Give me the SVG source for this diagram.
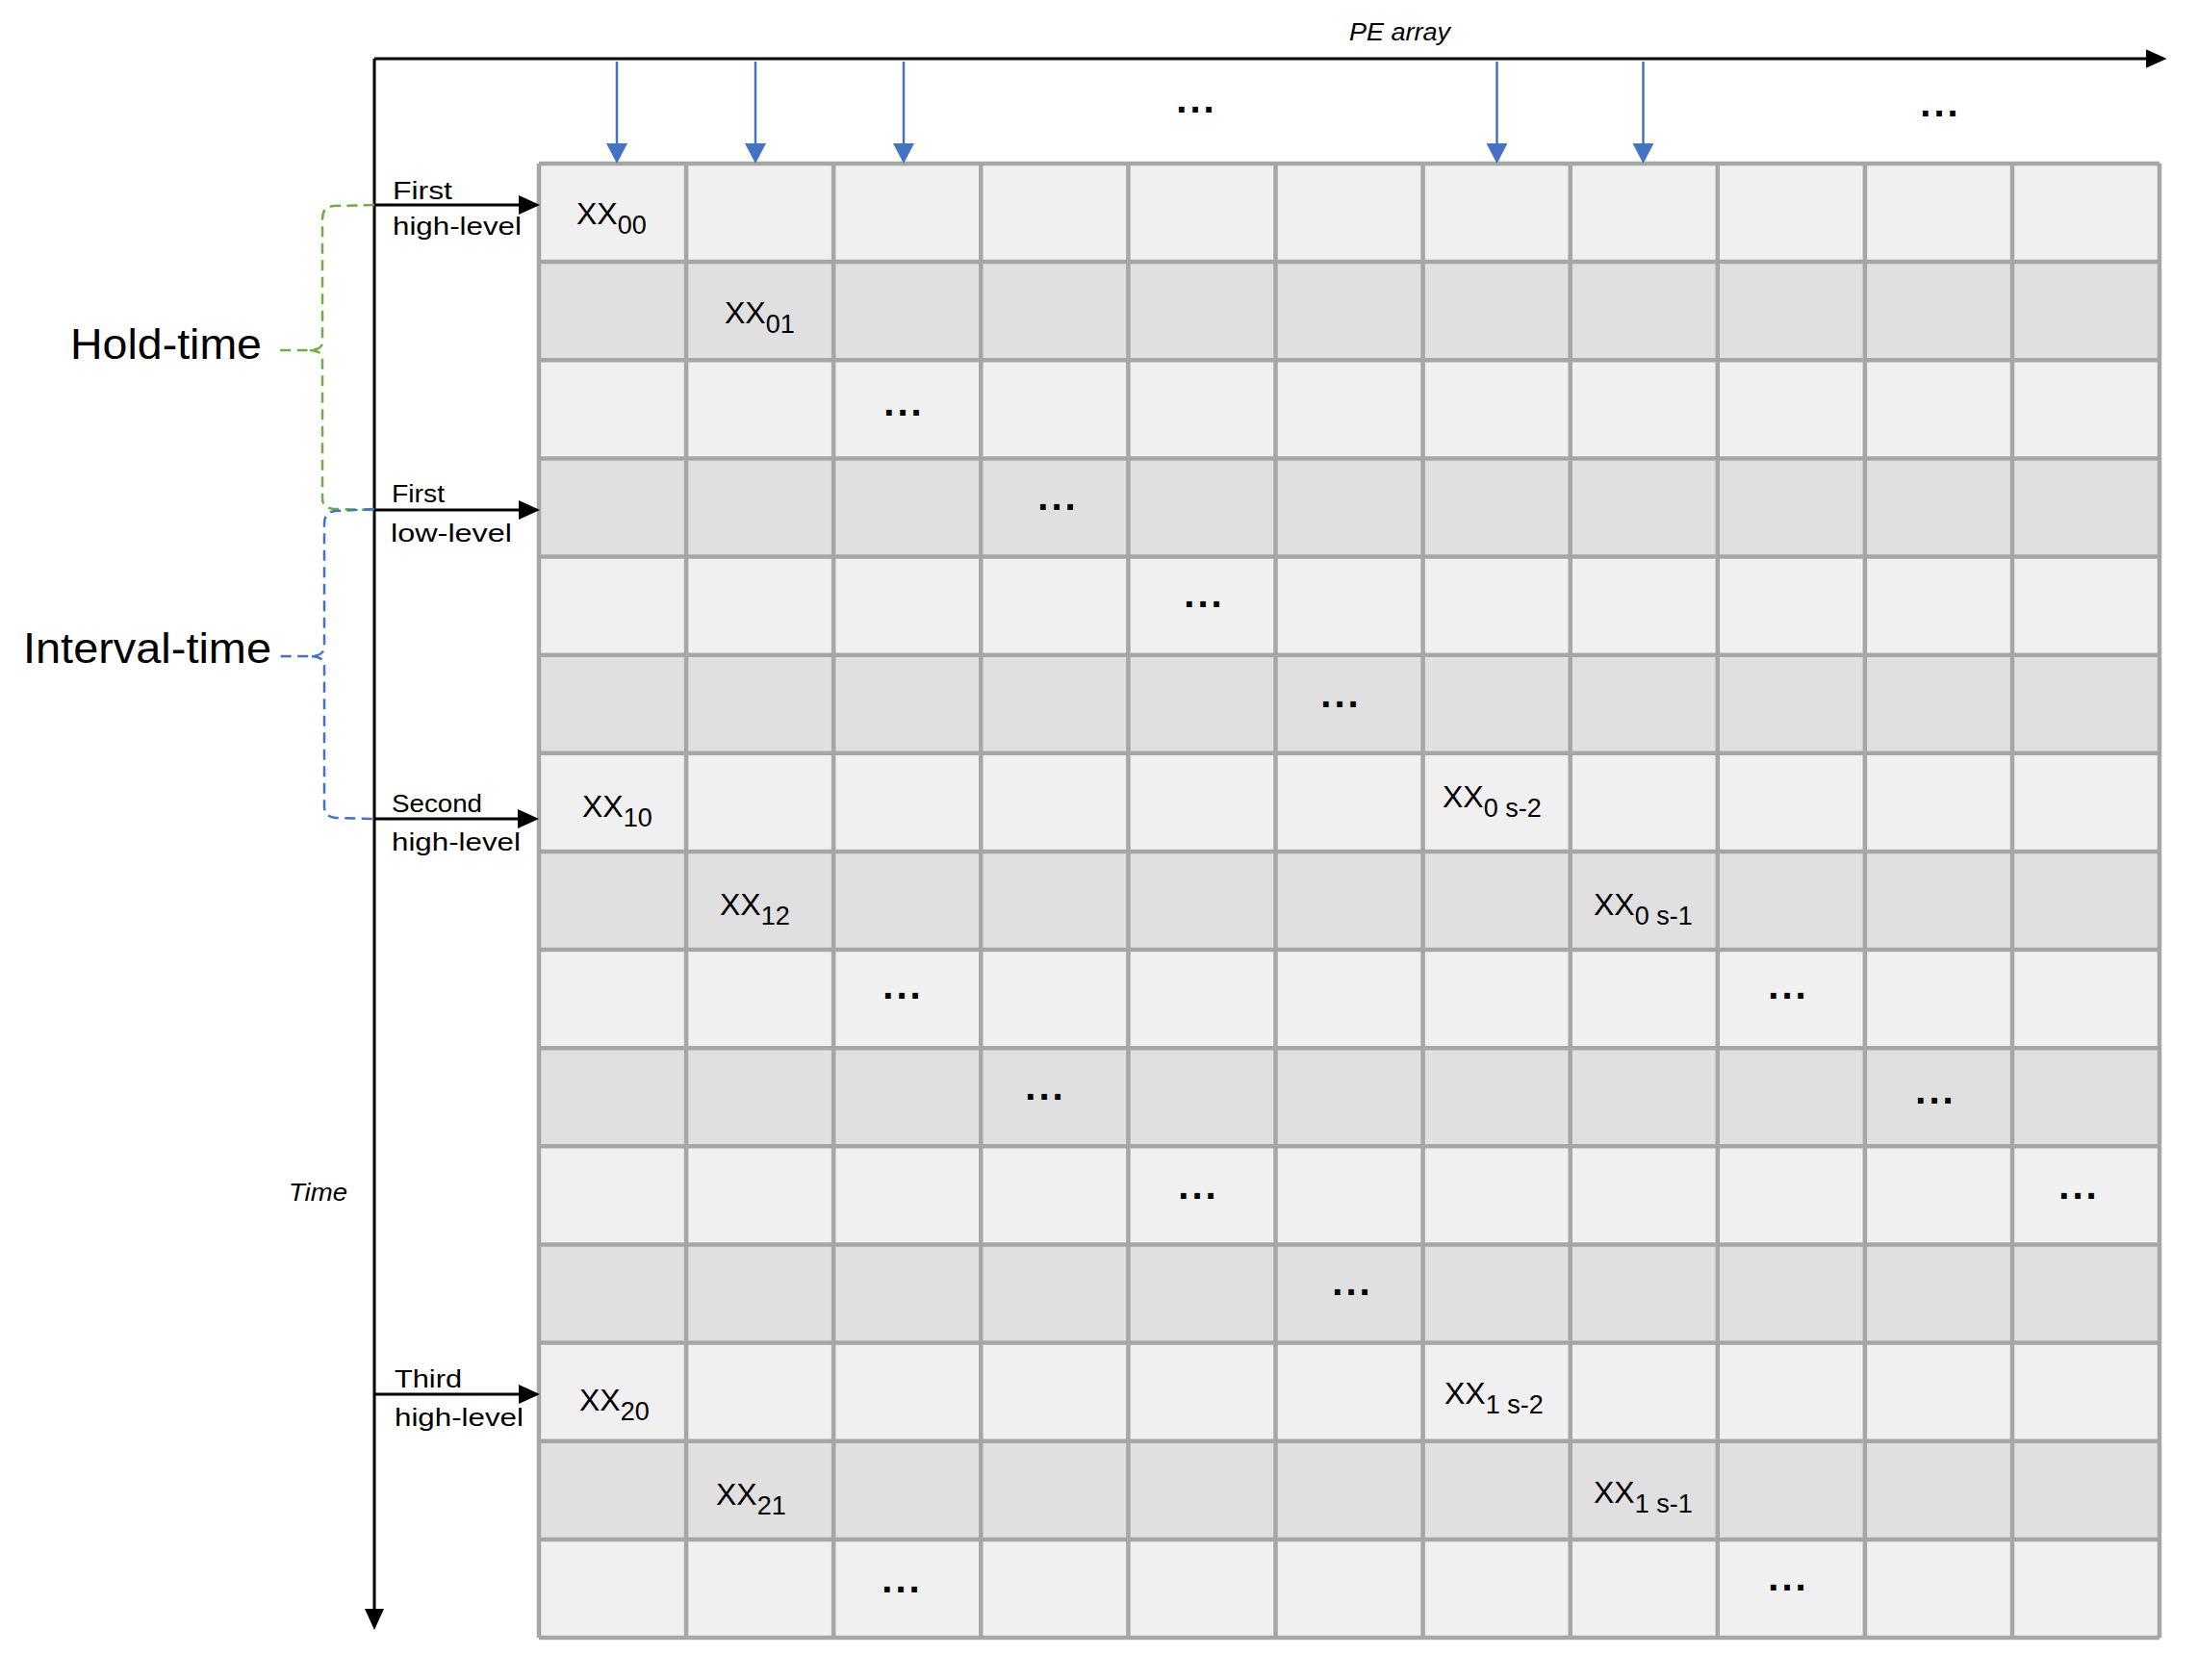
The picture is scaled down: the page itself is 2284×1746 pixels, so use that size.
<svg xmlns="http://www.w3.org/2000/svg" width="2284" height="1746" viewBox="0 0 2284 1746">
<style>
  .light { fill: #f0f0f0; }
  .dark { fill: #e0e0e0; }
  .gl { stroke: #a6a6a6; stroke-width: 4.5; fill: none; }
  .ax { stroke: #000; stroke-width: 3; fill: none; }
  .blue { stroke: #4472c4; stroke-width: 2.5; fill: none; }
  .brg { stroke: #70ad47; stroke-width: 2.5; fill: none; stroke-dasharray: 11 6.5; }
  .brb { stroke: #4472c4; stroke-width: 2.5; fill: none; stroke-dasharray: 11 6.5; }
  .lbl { font-family: "Liberation Sans", Arial, sans-serif; font-size: 25px; fill: #000; }
  .big { font-family: "Liberation Sans", Arial, sans-serif; font-size: 44px; fill: #000; }
  .it { font-family: "Liberation Sans", Arial, sans-serif; font-size: 26px; font-style: italic; fill: #000; }
  .xx { font-family: "Liberation Sans", Arial, sans-serif; font-size: 32px; fill: #000; }
  .sub { font-size: 27px; }
  .dots { font-family: "Liberation Sans", Arial, sans-serif; font-size: 40px; font-weight: bold; letter-spacing: 3px; text-anchor: middle; fill: #000; }
</style>
<defs>
  <marker id="ah" markerUnits="userSpaceOnUse" markerWidth="22" markerHeight="20" refX="12" refY="10" orient="auto">
    <path d="M0,0 L22,10 L0,20 z" fill="#000"/>
  </marker>
  <marker id="ahb" markerUnits="userSpaceOnUse" markerWidth="21" markerHeight="22" refX="11" refY="11" orient="auto">
    <path d="M0,0 L21,11 L0,22 z" fill="#4472c4"/>
  </marker>
</defs>
<rect width="2284" height="1746" fill="#fff"/>

<g id="grid">
  <rect class="light" x="560" y="170" width="1684" height="102.1"/>
  <rect class="dark" x="560" y="272.1" width="1684" height="102.2"/>
  <rect class="light" x="560" y="374.3" width="1684" height="102.1"/>
  <rect class="dark" x="560" y="476.4" width="1684" height="102.1"/>
  <rect class="light" x="560" y="578.5" width="1684" height="102.2"/>
  <rect class="dark" x="560" y="680.7" width="1684" height="102.1"/>
  <rect class="light" x="560" y="782.8" width="1684" height="102.1"/>
  <rect class="dark" x="560" y="884.9" width="1684" height="102.1"/>
  <rect class="light" x="560" y="987" width="1684" height="102.2"/>
  <rect class="dark" x="560" y="1089.2" width="1684" height="102.1"/>
  <rect class="light" x="560" y="1191.3" width="1684" height="102.2"/>
  <rect class="dark" x="560" y="1293.5" width="1684" height="102.1"/>
  <rect class="light" x="560" y="1395.6" width="1684" height="102.1"/>
  <rect class="dark" x="560" y="1497.7" width="1684" height="102.2"/>
  <rect class="light" x="560" y="1599.9" width="1684" height="102.1"/>
  <path class="gl" d="M560,170 V1702 M713.1,170 V1702 M866.2,170 V1702 M1019.3,170 V1702 M1172.4,170 V1702 M1325.5,170 V1702 M1478.6,170 V1702 M1631.7,170 V1702 M1784.8,170 V1702 M1937.9,170 V1702 M2091,170 V1702 M2244,170 V1702"/>
  <path class="gl" d="M560,170 H2244 M560,272.1 H2244 M560,374.3 H2244 M560,476.4 H2244 M560,578.5 H2244 M560,680.7 H2244 M560,782.8 H2244 M560,884.9 H2244 M560,987 H2244 M560,1089.2 H2244 M560,1191.3 H2244 M560,1293.5 H2244 M560,1395.6 H2244 M560,1497.7 H2244 M560,1599.9 H2244 M560,1702 H2244"/>
</g>

<g id="cell-labels">
  <text class="xx" x="599" y="233">XX<tspan class="sub" dy="10">00</tspan></text>
  <text class="xx" x="753" y="336">XX<tspan class="sub" dy="10">01</tspan></text>
  <text class="xx" x="605" y="849">XX<tspan class="sub" dy="10">10</tspan></text>
  <text class="xx" x="748" y="951">XX<tspan class="sub" dy="10">12</tspan></text>
  <text class="xx" x="602" y="1466">XX<tspan class="sub" dy="10">20</tspan></text>
  <text class="xx" x="744" y="1564">XX<tspan class="sub" dy="10">21</tspan></text>
  <text class="xx" x="1499" y="839">XX<tspan class="sub" dy="10">0 s-2</tspan></text>
  <text class="xx" x="1656" y="951">XX<tspan class="sub" dy="10">0 s-1</tspan></text>
  <text class="xx" x="1501" y="1459">XX<tspan class="sub" dy="10">1 s-2</tspan></text>
  <text class="xx" x="1656" y="1562">XX<tspan class="sub" dy="10">1 s-1</tspan></text>
</g>

<g id="ellipses">
  <text class="dots" x="1243.5" y="117">...</text>
  <text class="dots" x="2016.5" y="121">...</text>
  <text class="dots" x="939.5" y="432">...</text>
  <text class="dots" x="1099.5" y="530">...</text>
  <text class="dots" x="1251.5" y="631">...</text>
  <text class="dots" x="1393.5" y="735">...</text>
  <text class="dots" x="938.5" y="1038">...</text>
  <text class="dots" x="1858.5" y="1038">...</text>
  <text class="dots" x="1086.5" y="1143">...</text>
  <text class="dots" x="2011.5" y="1147">...</text>
  <text class="dots" x="1245.5" y="1246">...</text>
  <text class="dots" x="2160.5" y="1246">...</text>
  <text class="dots" x="1405.5" y="1346">...</text>
  <text class="dots" x="937.5" y="1655">...</text>
  <text class="dots" x="1858.5" y="1653">...</text>
</g>

<g id="connectors">
  <line class="ax" x1="389" y1="61" x2="2241.5" y2="61" marker-end="url(#ah)"/>
  <line class="ax" x1="389" y1="61" x2="389" y2="1684" marker-end="url(#ah)"/>
  <line class="ax" x1="389" y1="213" x2="551" y2="213" marker-end="url(#ah)"/>
  <line class="ax" x1="389" y1="530" x2="551" y2="530" marker-end="url(#ah)"/>
  <line class="ax" x1="389" y1="851" x2="550" y2="851" marker-end="url(#ah)"/>
  <line class="ax" x1="389" y1="1449" x2="551" y2="1449" marker-end="url(#ah)"/>
  <line class="blue" x1="641" y1="64" x2="641" y2="160" marker-end="url(#ahb)"/>
  <line class="blue" x1="785" y1="64" x2="785" y2="160" marker-end="url(#ahb)"/>
  <line class="blue" x1="939" y1="64" x2="939" y2="160" marker-end="url(#ahb)"/>
  <line class="blue" x1="1555.5" y1="64" x2="1555.5" y2="160" marker-end="url(#ahb)"/>
  <line class="blue" x1="1707.5" y1="64" x2="1707.5" y2="160" marker-end="url(#ahb)"/>
  <path class="brg" d="M389,213 L347,214 Q335,215 335,227 L335,356 Q335,363 322,364 L286,364 M322,364 Q335,365 335,372 L335,518 Q335,528 347,529 L389,530"/>
  <path class="brb" d="M389,529 L349,531 Q337,532 337,544 L337,672 Q337,681 324,682 L288,682 M324,682 Q337,683 337,692 L337,838 Q337,849 349,850 L389,851"/>
</g>

<g id="axis-labels">
  <text class="it" x="1402" y="42" textLength="105" lengthAdjust="spacingAndGlyphs">PE array</text>
  <text class="it" x="300" y="1248" textLength="61" lengthAdjust="spacingAndGlyphs">Time</text>
</g>

<g id="level-labels">
  <text class="lbl" x="408" y="207" textLength="62" lengthAdjust="spacingAndGlyphs">First</text>
  <text class="lbl" x="408" y="244" textLength="134" lengthAdjust="spacingAndGlyphs">high-level</text>
  <text class="lbl" x="407" y="522" textLength="55" lengthAdjust="spacingAndGlyphs">First</text>
  <text class="lbl" x="406" y="563" textLength="126" lengthAdjust="spacingAndGlyphs">low-level</text>
  <text class="lbl" x="407" y="844" textLength="94" lengthAdjust="spacingAndGlyphs">Second</text>
  <text class="lbl" x="407" y="884" textLength="134" lengthAdjust="spacingAndGlyphs">high-level</text>
  <text class="lbl" x="410" y="1442" textLength="70" lengthAdjust="spacingAndGlyphs">Third</text>
  <text class="lbl" x="410" y="1482" textLength="134" lengthAdjust="spacingAndGlyphs">high-level</text>
</g>

<g id="brace-labels">
  <text class="big" x="73" y="373" textLength="199" lengthAdjust="spacingAndGlyphs">Hold-time</text>
  <text class="big" x="24" y="689" textLength="258" lengthAdjust="spacingAndGlyphs">Interval-time</text>
</g>
</svg>
